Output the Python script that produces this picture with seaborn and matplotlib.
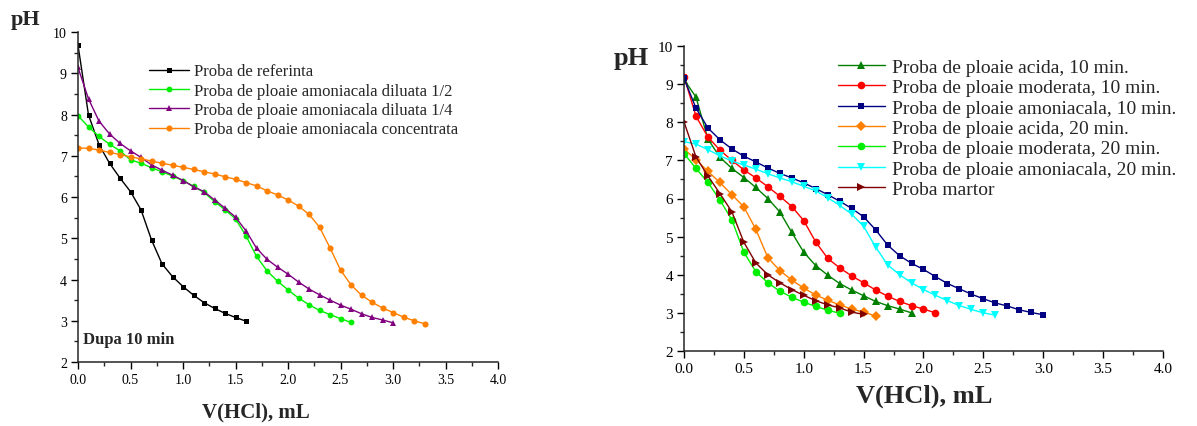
import numpy as np
import pandas as pd
import matplotlib
matplotlib.use("Agg")
import matplotlib.pyplot as plt
from matplotlib.ticker import MultipleLocator
import seaborn as sns

# ---------------- data: left panel (dupa 10 min) ----------------
v_ref = [round(0.1 * i, 1) for i in range(17)]
ph_ref = [9.68, 7.99, 7.27, 6.82, 6.46, 6.13, 5.69, 4.96, 4.38, 4.07, 3.83,
          3.62, 3.44, 3.30, 3.18, 3.08, 2.99]

v_d2 = [round(0.1 * i, 1) for i in range(27)]
ph_d2 = [7.97, 7.70, 7.47, 7.28, 7.12, 6.90, 6.82, 6.71, 6.61, 6.51, 6.40,
         6.26, 6.11, 5.89, 5.69, 5.47, 5.06, 4.56, 4.21, 3.96, 3.75, 3.55,
         3.39, 3.25, 3.15, 3.05, 2.96]

v_d4 = [round(0.1 * i, 1) for i in range(31)]
ph_d4 = [9.14, 8.38, 7.84, 7.53, 7.30, 7.12, 6.96, 6.78, 6.65, 6.53, 6.40,
         6.25, 6.13, 5.93, 5.73, 5.51, 5.18, 4.76, 4.49, 4.30, 4.13, 3.94,
         3.77, 3.63, 3.50, 3.38, 3.28, 3.17, 3.08, 3.02, 2.95]

v_conc = [round(0.1 * i, 1) for i in range(34)]
ph_conc = [7.19, 7.18, 7.14, 7.08, 7.03, 6.97, 6.93, 6.87, 6.82, 6.77, 6.72,
           6.67, 6.61, 6.56, 6.49, 6.43, 6.35, 6.27, 6.15, 6.05, 5.93, 5.78,
           5.58, 5.27, 4.77, 4.23, 3.87, 3.62, 3.45, 3.31, 3.20, 3.09, 3.00,
           2.93]

left_labels = ["Proba de referinta",
               "Proba de ploaie amoniacala diluata 1/2",
               "Proba de ploaie amoniacala diluata 1/4",
               "Proba de ploaie amoniacala concentrata"]

# ---------------- data: right panel ----------------
v_ac10 = [round(0.1 * i, 1) for i in range(20)]
ph_ac10 = [9.12, 8.66, 7.56, 7.08, 6.79, 6.55, 6.29, 6.00, 5.65, 5.11, 4.59,
           4.24, 3.99, 3.77, 3.60, 3.45, 3.30, 3.19, 3.10, 3.00]

v_mod10 = [round(0.1 * i, 1) for i in range(22)]
ph_mod10 = [9.20, 8.16, 7.61, 7.27, 7.00, 6.75, 6.54, 6.31, 6.06, 5.79, 5.42,
            4.86, 4.43, 4.18, 3.97, 3.79, 3.60, 3.44, 3.30, 3.19, 3.10, 3.00]

v_am10 = [round(0.1 * i, 1) for i in range(31)]
ph_am10 = [9.15, 8.37, 7.85, 7.54, 7.30, 7.11, 6.96, 6.80, 6.66, 6.54, 6.41,
           6.26, 6.10, 5.93, 5.74, 5.52, 5.18, 4.78, 4.50, 4.30, 4.14, 3.95,
           3.77, 3.63, 3.49, 3.37, 3.26, 3.18, 3.08, 3.01, 2.95]

v_ac20 = [round(0.1 * i, 1) for i in range(17)]
ph_ac20 = [7.30, 7.02, 6.71, 6.42, 6.10, 5.78, 5.19, 4.45, 4.11, 3.86, 3.65,
           3.47, 3.33, 3.21, 3.10, 3.02, 2.92]

v_mod20 = [round(0.1 * i, 1) for i in range(14)]
ph_mod20 = [7.18, 6.79, 6.42, 5.96, 5.44, 4.59, 4.08, 3.79, 3.57, 3.41, 3.28,
            3.17, 3.07, 2.99]

v_am20 = [round(0.1 * i, 1) for i in range(27)]
ph_am20 = [7.49, 7.43, 7.28, 7.12, 6.98, 6.88, 6.77, 6.65, 6.54, 6.44, 6.32,
           6.20, 6.02, 5.82, 5.59, 5.27, 4.73, 4.26, 4.00, 3.79, 3.61, 3.46,
           3.32, 3.19, 3.09, 3.00, 2.94]

v_mart = [round(0.1 * i, 1) for i in range(16)]
ph_mart = [8.01, 7.09, 6.59, 6.13, 5.65, 4.85, 4.31, 4.00, 3.79, 3.61, 3.46,
           3.32, 3.21, 3.13, 3.02, 2.96]

right_labels = ["Proba de ploaie acida, 10 min.",
                "Proba de ploaie moderata, 10 min.",
                "Proba de ploaie amoniacala, 10 min.",
                "Proba de ploaie acida, 20 min.",
                "Proba de ploaie moderata, 20 min.",
                "Proba de ploaie amoniacala, 20 min.",
                "Proba martor"]

x_label = "V(HCl), mL"
y_label = "pH"
note_text = "Dupa 10 min"

# ---------------- style ----------------
sns.set_style("ticks")
plt.rcParams["font.family"] = ["Liberation Serif", "DejaVu Serif"]
plt.rcParams["axes.linewidth"] = 1.1

fig = plt.figure(figsize=(11.97, 4.27), dpi=100)
axL = fig.add_axes([78 / 1197, 64 / 427, 420 / 1197, 330 / 427])
axR = fig.add_axes([684 / 1197, 75 / 427, 479 / 1197, 305 / 427])

left_series = [(v_ref, ph_ref, "black", "s", 3.6),
               (v_d2, ph_d2, "#00ee00", "o", 4.2),
               (v_d4, ph_d4, "#800080", "^", 4.4),
               (v_conc, ph_conc, "#ff8000", "o", 4.4)]
for (xv, yv, c, m, ms), lab in zip(left_series, left_labels):
    sns.lineplot(x=xv, y=yv, ax=axL, color=c, marker=m, markersize=ms,
                 markeredgewidth=0, linewidth=1.0, label=lab, sort=False)

right_series = [(v_ac10, ph_ac10, "#008000", "^", 5.5),
                (v_mod10, ph_mod10, "#ff0000", "o", 5.5),
                (v_am10, ph_am10, "#000080", "s", 5.0),
                (v_ac20, ph_ac20, "#ff8000", "D", 5.0),
                (v_mod20, ph_mod20, "#00ee00", "o", 5.5),
                (v_am20, ph_am20, "#00ffff", "v", 5.5),
                (v_mart, ph_mart, "#800000", ">", 5.5)]
for (xv, yv, c, m, ms), lab in zip(right_series, right_labels):
    sns.lineplot(x=xv, y=yv, ax=axR, color=c, marker=m, markersize=ms,
                 markeredgewidth=0, linewidth=1.0, label=lab, sort=False)

for ax, lsize in ((axL, 10), (axR, 11)):
    ax.set_xlim(0, 4.0)
    ax.set_ylim(2, 10)
    ax.xaxis.set_major_locator(MultipleLocator(0.5))
    ax.xaxis.set_minor_locator(MultipleLocator(0.25))
    ax.yaxis.set_major_locator(MultipleLocator(1))
    ax.yaxis.set_minor_locator(MultipleLocator(0.5))
    ax.xaxis.set_major_formatter(matplotlib.ticker.FormatStrFormatter("%.1f"))
    ax.tick_params(which="major", direction="out", length=5, width=1.0,
                   labelsize=lsize, colors="black", pad=3)
    ax.tick_params(which="minor", direction="out", length=3, width=1.0)
    for s in ("top", "right"):
        ax.spines[s].set_visible(False)
    ax.set_xlabel("")
    ax.set_ylabel("")

# axis titles
fig.text(256 / 1197, 1 - 412 / 427, x_label, fontsize=15, fontweight="bold",
         ha="center", va="center")
fig.text(26 / 1197, 1 - 20 / 427, y_label, fontsize=16, fontweight="bold",
         ha="center", va="center")
fig.text(924 / 1197, 1 - 396 / 427, x_label, fontsize=19, fontweight="bold",
         ha="center", va="center")
fig.text(631 / 1197, 1 - 59 / 427, y_label, fontsize=19, fontweight="bold",
         ha="center", va="center")

axL.text(0.05, 2.55, note_text, fontsize=12, fontweight="bold",
         ha="left", va="center")

legL = axL.legend(loc="upper left", bbox_to_anchor=(0.152, 0.925), frameon=False,
                  fontsize=12, handlelength=2.4, handletextpad=0.35,
                  labelspacing=0.2, borderaxespad=0, numpoints=1)
legR = axR.legend(loc="upper left", bbox_to_anchor=(0.305, 0.985), frameon=False,
                  fontsize=14, handlelength=2.4, handletextpad=0.4,
                  labelspacing=0.14, borderaxespad=0, numpoints=1)

fig.savefig("out.png", dpi=100)
